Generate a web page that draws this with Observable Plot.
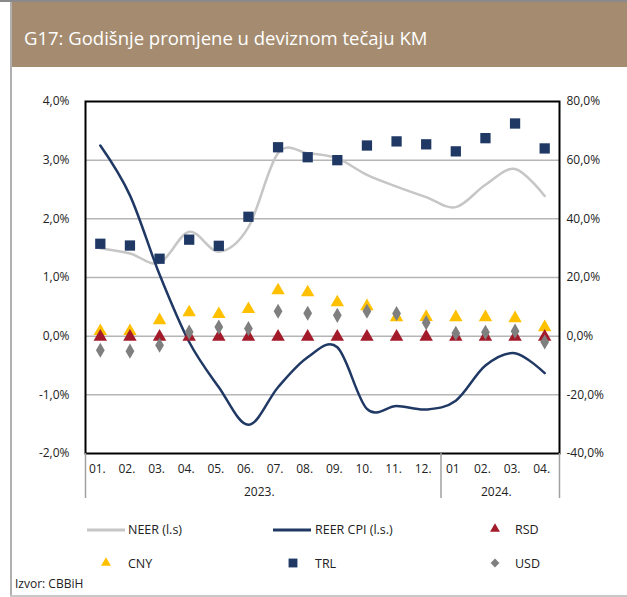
<!DOCTYPE html>
<html>
<head>
<meta charset="utf-8">
<script src="https://cdn.jsdelivr.net/npm/d3@7"></script>
<script src="https://cdn.jsdelivr.net/npm/@observablehq/plot@0.6"></script>
<style>
  body { margin: 0; background: #fff; font-family: "Open Sans", sans-serif; }
  #wrap { position: relative; width: 627px; height: 597px; overflow: hidden; background: #fff; }
  #topline { position: absolute; left: 0; top: 0; width: 627px; height: 2px; background: #8a8a8a; }
  #title { position: absolute; left: 11px; top: 2px; width: 616px; height: 65px; background: #a58c70;
           color: #fff; font-size: 18.5px; line-height: 72px; padding-left: 13px; box-sizing: border-box; overflow: hidden; }
  #leftline { position: absolute; left: 10px; top: 2px; width: 1.5px; height: 594px; background: #b0b0b0; }
  #bottomline { position: absolute; left: 10px; top: 595px; width: 617px; height: 1.5px; background: #c8c8c8; }
  #chart { position: absolute; left: 0; top: 68px; }
  .leg { position: absolute; font-size: 12.5px; color: #222; line-height: 16px; white-space: nowrap; }
  .sym { position: absolute; }
  #src { position: absolute; left: 15px; top: 576px; font-size: 12px; color: #222; line-height: 16px; }
</style>
</head>
<body>
<div id="wrap">
  <div id="topline"></div>
  <div id="title">G17: Godišnje promjene u deviznom tečaju KM</div>
  <div id="leftline"></div>
  <div id="bottomline"></div>
  <div id="chart"></div>
  <div id="legend"></div>
  <div id="src">Izvor: CBBiH</div>
</div>
<script>
// ---- data (left axis series in %, right axis series in %) ----
const months = ["01.","02.","03.","04.","05.","06.","07.","08.","09.","10.","11.","12.","01","02.","03.","04."];
const years = ["2023.", "2024."];
const leftTicks = [-2, -1, 0, 1, 2, 3, 4];          // left axis, %
const neer = [1.50, 1.41, 1.25, 1.78, 1.44, 1.86, 3.12, 3.12, 3.03, 2.75, 2.55, 2.37, 2.20, 2.58, 2.85, 2.39];
const reer = [3.25, 2.40, 1.05, -0.10, -0.87, -1.51, -0.87, -0.36, -0.19, -1.24, -1.19, -1.25, -1.10, -0.50, -0.29, -0.63];
const trl  = [31.5, 30.9, 26.4, 32.9, 30.8, 40.7, 64.4, 61.0, 60.0, 65.0, 66.4, 65.4, 63.0, 67.5, 72.5, 64.0];
const cny  = [1.7, 1.7, 5.4, 8.1, 7.5, 9.2, 15.6, 14.9, 11.5, 10.2, 6.4, 6.5, 6.4, 6.4, 6.1, 3.0];
const usd  = [-4.8, -5.1, -3.1, 1.4, 3.1, 2.6, 8.5, 7.8, 7.1, 8.5, 7.7, 4.6, 1.0, 1.3, 1.7, -2.0];
const rsd  = [-0.2, -0.2, -0.2, -0.2, -0.2, -0.2, -0.2, -0.2, -0.2, -0.2, -0.2, -0.2, -0.2, -0.2, -0.2, -0.2];
const ratio = 20; // right axis = left axis * 20

const C = { neer: "#c6c6c6", reer: "#1f3864", trl: "#1f3864", cny: "#ffc000", rsd: "#a31b2b", usd: "#7f7f7f" };

const rows = months.map((m, i) => ({
  i, neer: neer[i], reer: reer[i],
  trl: trl[i] / ratio, cny: cny[i] / ratio, usd: usd[i] / ratio, rsd: rsd[i] / ratio
}));

const fmt = v => v.toFixed(1).replace(".", ",") + "%";

const chart = Plot.plot({
  width: 627, height: 440,
  marginLeft: 85, marginRight: 68, marginTop: 33, marginBottom: 55,
  x: { type: "linear", domain: [-0.5, 15.5], axis: null, label: null },
  y: { domain: [-2, 4], axis: null, label: null },
  style: { fontFamily: "Open Sans, sans-serif", fontSize: "12px", color: "#222", background: "transparent" },
  marks: [
    Plot.ruleY(leftTicks.slice(1, -1), { stroke: "#b5b5b5", strokeWidth: 1.5 }),
    Plot.line(rows, { x: "i", y: "neer", stroke: C.neer, strokeWidth: 2.5, curve: "cardinal", tension: 0 }),
    Plot.line(rows, { x: "i", y: "reer", stroke: C.reer, strokeWidth: 2.5, curve: "cardinal", tension: 0 }),
    Plot.dot(rows, { x: "i", y: "cny", symbol: "triangle", r: 5, fill: C.cny, stroke: "none" }),
    Plot.dot(rows, { x: "i", y: "rsd", symbol: "triangle", r: 5, fill: C.rsd, stroke: "none" }),
    Plot.dot(rows, { x: "i", y: "trl", symbol: "square", r: 5.8, fill: C.trl, stroke: "none" }),
    Plot.dot(rows, { x: "i", y: "usd", symbol: "diamond", r: 4.6, fill: C.usd, stroke: "none" }),
    Plot.frame({ stroke: "#000", strokeWidth: 2 }),
    Plot.axisY({ anchor: "left", ticks: leftTicks, tickFormat: fmt, tickSize: 0, tickPadding: 16, label: null }),
    Plot.axisY({ anchor: "right", ticks: leftTicks, tickFormat: d => fmt(d * ratio), tickSize: 0, tickPadding: 7, label: null }),
    Plot.axisX({ ticks: d3.range(months.length), tickFormat: i => months[i], tickSize: 0, tickPadding: 11, dx: -3, label: null }),
    Plot.axisX({ ticks: [-0.5, 11.5, 15.5], tickFormat: () => "", tickSize: 45, stroke: "#a0a0a0", strokeWidth: 1.5, label: null }),
    Plot.axisX({ ticks: [5.5, 13.5], tickFormat: d => d < 12 ? years[0] : years[1], tickSize: 0, tickPadding: 34, dx: -4, label: null })
  ]
});
document.getElementById("chart").appendChild(chart);

// ---- legend ----
const legendItems = [
  { name: "NEER (l.s)", kind: "line", color: C.neer, sx: 87, tx: 128, y: 530 },
  { name: "REER CPI (l.s.)", kind: "line", color: C.reer, sx: 273, tx: 315, y: 530 },
  { name: "RSD", kind: "triangle", color: C.rsd, sx: 495, tx: 515, y: 530 },
  { name: "CNY", kind: "triangle", color: C.cny, sx: 106, tx: 128, y: 564 },
  { name: "TRL", kind: "square", color: C.trl, sx: 293, tx: 315, y: 564 },
  { name: "USD", kind: "diamond", color: C.usd, sx: 495, tx: 515, y: 564 }
];
const wrap = document.getElementById("wrap");
for (const it of legendItems) {
  const s = document.createElementNS("http://www.w3.org/2000/svg", "svg");
  s.setAttribute("class", "sym");
  let w = 14, h = 14, inner = "";
  if (it.kind === "line") {
    w = 38; h = 4;
    inner = `<line x1="0" x2="38" y1="2" y2="2" stroke="${it.color}" stroke-width="3"/>`;
    s.style.left = it.sx + "px"; s.style.top = (it.y - 2) + "px";
  } else {
    const sym = it.kind === "triangle" ? d3.symbolTriangle2 : it.kind === "square" ? d3.symbolSquare2 : d3.symbolDiamond2;
    const size = it.kind === "square" ? 100 : it.kind === "triangle" ? 70 : 50;
    inner = `<path transform="translate(7,7)" d="${d3.symbol(sym, size)()}" fill="${it.color}"/>`;
    s.style.left = (it.sx - 7) + "px"; s.style.top = (it.y - 8) + "px";
  }
  s.setAttribute("width", w); s.setAttribute("height", h);
  s.innerHTML = inner;
  wrap.appendChild(s);
  const t = document.createElement("div");
  t.className = "leg"; t.textContent = it.name;
  t.style.left = it.tx + "px"; t.style.top = (it.y - 8) + "px";
  wrap.appendChild(t);
}
</script>
</body>
</html>
